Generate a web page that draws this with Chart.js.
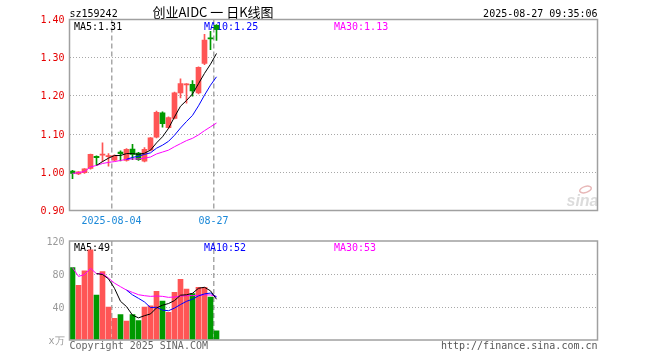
<!DOCTYPE html>
<html><head><meta charset="utf-8">
<script src="https://cdn.jsdelivr.net/npm/chart.js@4.4.1/dist/chart.umd.min.js"></script>
<style>
html,body{margin:0;padding:0;background:#fff;width:660px;height:360px;overflow:hidden;}
#wrap{position:relative;width:660px;height:360px;}
canvas{position:absolute;left:0;}
#pc{top:0;} #vc{top:230px;}
</style></head><body>
<div id="wrap">
<canvas id="pc" width="660" height="230" style="width:660px;height:230px"></canvas>
<canvas id="vc" width="660" height="130" style="width:660px;height:130px"></canvas>
</div>
<script>
// ---------- data ----------
const symbol = 'sz159242';
const title = '创业AIDC 一 日K线图';
const stamp = '2025-08-27 09:35:06';
const dates = ['2025-07-24','2025-07-25','2025-07-28','2025-07-29','2025-07-30','2025-07-31','2025-08-01',
  '2025-08-04','2025-08-05','2025-08-06','2025-08-07','2025-08-08','2025-08-11','2025-08-12','2025-08-13',
  '2025-08-14','2025-08-15','2025-08-18','2025-08-19','2025-08-20','2025-08-21','2025-08-22','2025-08-25',
  '2025-08-26','2025-08-27'];
const xTickLabels = ['2025-08-04', '08-27'];
const priceTicks = [0.90, 1.00, 1.10, 1.20, 1.30, 1.40];
const volTicks = [0, 40, 80, 120];
const volUnit = 'x万';

const opens  = [1.003,0.996,0.999,1.010,1.042,1.045,1.041,1.032,1.053,1.031,1.061,1.050,1.029,1.058,1.092,1.156,1.117,1.141,1.208,1.229,1.230,1.208,1.285,1.352,1.385];
const closes = [0.997,1.001,1.009,1.047,1.038,1.047,1.044,1.044,1.049,1.060,1.047,1.033,1.060,1.090,1.157,1.127,1.143,1.208,1.232,1.231,1.213,1.275,1.346,1.349,1.374];
const highs  = [1.005,1.002,1.010,1.048,1.043,1.077,1.049,1.046,1.056,1.062,1.073,1.052,1.065,1.091,1.160,1.158,1.145,1.210,1.245,1.232,1.240,1.276,1.361,1.369,1.387];
const lows   = [0.983,0.994,0.997,1.008,1.020,1.027,1.016,1.030,1.030,1.029,1.033,1.031,1.027,1.056,1.090,1.118,1.115,1.140,1.195,1.181,1.199,1.205,1.282,1.321,1.345];

const ma5  = [null,null,null,null,1.018,1.028,1.037,1.044,1.044,1.049,1.049,1.047,1.050,1.058,1.077,1.093,1.115,1.145,1.173,1.188,1.205,1.232,1.259,1.283,1.311];
const ma10 = [null,null,null,null,null,null,null,null,null,1.034,1.039,1.042,1.047,1.051,1.063,1.071,1.081,1.097,1.116,1.133,1.149,1.174,1.202,1.228,1.250];
const ma30 = [0.997,0.999,1.002,1.014,1.018,1.023,1.026,1.028,1.031,1.034,1.035,1.035,1.037,1.040,1.048,1.053,1.058,1.067,1.075,1.083,1.089,1.098,1.109,1.119,1.129];

const volumes = [87.8,66.3,83.9,109.2,54.6,82.9,40.0,26.3,30.7,22.8,30.7,23.4,40.0,41.3,59.1,47.3,33.4,57.9,73.6,61.8,56.4,63.9,63.9,52.0,11.0];
const vma5  = [null,null,null,null,80.4,79.4,74.1,62.6,46.9,40.5,30.1,26.8,29.5,31.6,38.9,42.2,44.2,47.8,54.3,54.8,56.6,62.7,63.9,59.6,49.4];
const vma10 = [null,null,null,null,null,null,null,null,null,60.5,54.7,50.5,46.1,39.3,39.7,36.2,35.5,38.7,43.0,46.9,49.4,53.5,55.9,56.9,52.1];
const vma30 = [87.8,77.1,79.3,86.8,80.4,80.8,75.0,68.9,64.6,60.5,57.7,54.9,53.7,52.9,53.3,52.9,51.7,52.1,53.2,53.7,53.8,54.2,54.7,54.6,52.8];

// ---------- style / layout ----------
const SLOTS = 88;
const MONO = '"DejaVu Sans Mono","Liberation Mono",monospace';
const RED = '#ff5555', GREEN = '#009900';
const C_MA5 = '#000000', C_MA10 = '#0000ff', C_MA30 = '#ff00ff';
const GRID = '#a8a8a8', FRAME = '#a0a0a0';

const labels = dates.concat(new Array(SLOTS - dates.length).fill(''));
const tickIdx = xTickLabels.map(t => dates.findIndex(d => d === t || d.endsWith('-' + t)));
const dirColor = i => (closes[i] >= opens[i] ? RED : GREEN);
const last = a => a[a.length - 1];

Chart.defaults.font.family = MONO;
Chart.defaults.font.size = 10;
Chart.defaults.animation = false;

function xScale(showTicks) {
  return {
    type: 'category', offset: true,
    grid: { offset: true, drawTicks: false,
      color: c => tickIdx.includes(c.index) ? GRID : 'rgba(0,0,0,0)', lineWidth: 1.5 },
    border: { display: false, dash: [5, 3] },
    ticks: { display: showTicks, autoSkip: false, maxRotation: 0, minRotation: 0,
      color: '#1a88d8', padding: 5, labelOffset: -3,
      callback: (v, i) => { const k = tickIdx.indexOf(i); return k >= 0 ? xTickLabels[k] : ''; } },
    afterFit: s => { s.height = showTicks ? 19.5 : 20; }
  };
}
function lineDs(data, color) {
  return { type: 'line', data, borderColor: color, borderWidth: 1, pointRadius: 0,
    pointHoverRadius: 0, tension: 0, fill: false, order: 0 };
}
function frame(chart) {
  const a = chart.chartArea, ctx = chart.ctx;
  ctx.save(); ctx.strokeStyle = FRAME; ctx.lineWidth = 1.5;
  ctx.strokeRect(a.left, a.top, a.right - a.left, a.bottom - a.top); ctx.restore();
}

// ---------- price chart ----------
const pricePlugin = {
  id: 'priceText',
  beforeDatasetsDraw(chart) {
    const ctx = chart.ctx, a = chart.chartArea;
    ctx.save();
    ctx.font = '10px ' + MONO; ctx.textBaseline = 'alphabetic'; ctx.textAlign = 'left';
    ctx.fillStyle = C_MA5;  ctx.fillText('MA5:' + last(ma5).toFixed(2), a.left + 4.5, a.top + 10);
    ctx.fillStyle = C_MA10; ctx.fillText('MA10:' + last(ma10).toFixed(2), a.left + 134.5, a.top + 10);
    ctx.fillStyle = C_MA30; ctx.fillText('MA30:' + last(ma30).toFixed(2), a.left + 264.5, a.top + 10);
    // watermark
    ctx.fillStyle = '#dcdcdc'; ctx.font = 'bold italic 16px "Liberation Sans",Arial,sans-serif';
    ctx.textAlign = 'center'; ctx.fillText('sina', a.right - 15, a.bottom - 5);
    ctx.strokeStyle = '#e8b8b8'; ctx.lineWidth = 1.5;
    ctx.beginPath(); ctx.ellipse(a.right - 12, a.bottom - 21, 6, 3, -0.3, 0, Math.PI * 2); ctx.stroke();
    ctx.restore();
  },
  afterDraw(chart) {
    const ctx = chart.ctx, a = chart.chartArea;
    frame(chart);
    ctx.save();
    ctx.fillStyle = '#000'; ctx.textBaseline = 'alphabetic';
    ctx.font = '10px ' + MONO; ctx.textAlign = 'left'; ctx.fillText(symbol, a.left, 17);
    ctx.textAlign = 'right'; ctx.fillText(stamp, a.right, 17);
    ctx.font = '13px "Noto Sans CJK SC",sans-serif'; ctx.textAlign = 'center';
    ctx.fillText(title, 213, 17);
    ctx.restore();
  }
};

new Chart(document.getElementById('pc'), {
  type: 'bar',
  data: { labels, datasets: [
    lineDs(ma5, C_MA5), lineDs(ma10, C_MA10), lineDs(ma30, C_MA30),
    { type: 'bar', data: opens.map((o, i) => [o, closes[i]]), backgroundColor: c => dirColor(c.dataIndex),
      barThickness: 5, grouped: false, borderWidth: 0, minBarLength: 1, order: 1 },
    { type: 'bar', data: lows.map((l, i) => [l, highs[i]]), backgroundColor: c => dirColor(c.dataIndex),
      barThickness: 1, grouped: false, borderWidth: 0, order: 2 }
  ]},
  options: {
    responsive: false, devicePixelRatio: 1, events: [],
    layout: { padding: { left: 0, right: 62.5, top: 19.5, bottom: 0 } },
    plugins: { legend: { display: false }, tooltip: { enabled: false } },
    scales: {
      x: xScale(true),
      y: { min: 0.9, max: 1.4,
        afterBuildTicks: s => { s.ticks = priceTicks.map(v => ({ value: v })); },
        afterFit: s => { s.width = 69.5; },
        grid: { drawTicks: false, color: c => (c.tick && (c.tick.value <= 0.9 || c.tick.value >= 1.4)) ? 'rgba(0,0,0,0)' : GRID },
        border: { display: false, dash: [1, 2] },
        ticks: { color: '#e60000', padding: 5, labelOffset: 1, callback: v => Number(v).toFixed(2) } }
    }
  },
  plugins: [pricePlugin]
});

// ---------- volume chart ----------
const volPlugin = {
  id: 'volText',
  beforeDatasetsDraw(chart) {
    const ctx = chart.ctx, a = chart.chartArea;
    ctx.save();
    ctx.font = '10px ' + MONO; ctx.textBaseline = 'alphabetic'; ctx.textAlign = 'left';
    ctx.fillStyle = C_MA5;  ctx.fillText('MA5:' + Math.round(last(vma5)), a.left + 4.5, a.top + 9.5);
    ctx.fillStyle = C_MA10; ctx.fillText('MA10:' + Math.round(last(vma10)), a.left + 134.5, a.top + 9.5);
    ctx.fillStyle = C_MA30; ctx.fillText('MA30:' + Math.round(last(vma30)), a.left + 264.5, a.top + 9.5);
    ctx.restore();
  },
  afterDraw(chart) {
    const ctx = chart.ctx, a = chart.chartArea;
    frame(chart);
    ctx.save();
    ctx.font = '10px ' + MONO; ctx.textBaseline = 'alphabetic';
    ctx.fillStyle = '#666'; ctx.textAlign = 'left'; ctx.fillText('Copyright 2025 SINA.COM', a.left, a.bottom + 9);
    ctx.fillStyle = '#555'; ctx.textAlign = 'right'; ctx.fillText('http://finance.sina.com.cn', a.right, a.bottom + 9);
    ctx.restore();
  }
};

new Chart(document.getElementById('vc'), {
  type: 'bar',
  data: { labels, datasets: [
    lineDs(vma5, C_MA5), lineDs(vma10, C_MA10), lineDs(vma30, C_MA30),
    { type: 'bar', data: volumes, backgroundColor: c => dirColor(c.dataIndex),
      barThickness: 5, grouped: false, borderWidth: 0, order: 1 }
  ]},
  options: {
    responsive: false, devicePixelRatio: 1, events: [],
    layout: { padding: { left: 0, right: 62.5, top: 11, bottom: 0 } },
    plugins: { legend: { display: false }, tooltip: { enabled: false } },
    scales: {
      x: xScale(false),
      y: { min: 0, max: 120,
        afterBuildTicks: s => { s.ticks = volTicks.map(v => ({ value: v })); },
        afterFit: s => { s.width = 69.5; },
        grid: { drawTicks: false, color: c => (c.tick && (c.tick.value <= 0 || c.tick.value >= 120)) ? 'rgba(0,0,0,0)' : GRID },
        border: { display: false, dash: [1, 2] },
        ticks: { color: '#999', padding: 5, labelOffset: 1, callback: v => v === 0 ? volUnit : String(v) } }
    }
  },
  plugins: [volPlugin]
});
</script>
</body></html>
